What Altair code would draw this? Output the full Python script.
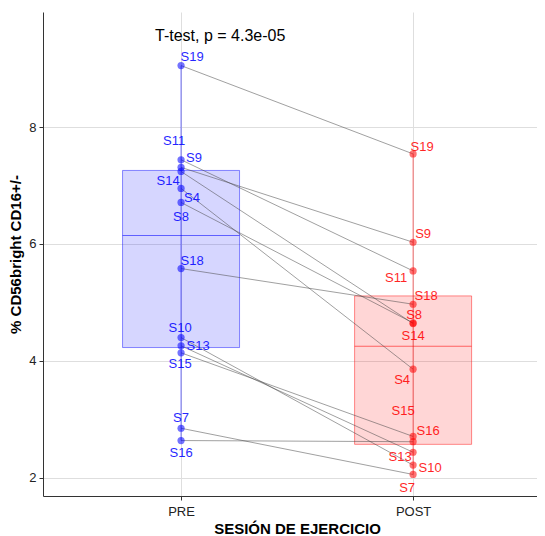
import altair as alt
import pandas as pd

subjects = ["S4", "S7", "S8", "S9", "S10", "S11", "S13", "S14", "S15", "S16", "S18", "S19"]
pre_values = [6.95, 2.85, 6.71, 7.31, 4.40, 7.44, 4.26, 7.24, 4.14, 2.64, 5.58, 9.05]
post_values = [3.86, 2.06, 4.65, 6.03, 2.22, 5.54, 2.44, 4.64, 2.71, 2.62, 4.97, 7.54]
groups = ["PRE", "POST"]
group_pos = [1, 2]
y_ticks = [2, 4, 6, 8]
stat_label = "T-test, p = 4.3e-05"

rows = []
for s, a, b in zip(subjects, pre_values, post_values):
    rows.append({"subject": s, "grp": groups[0], "xnum": group_pos[0], "value": a})
    rows.append({"subject": s, "grp": groups[1], "xnum": group_pos[1], "value": b})
df = pd.DataFrame(rows)

# label nudges (pixels) mimicking repelled labels
pre_nudge = {"S19": (11, -9), "S11": (-7, -19), "S9": (13, -9), "S14": (-13, 10),
             "S4": (11, 10), "S8": (0, 15), "S18": (11, -8), "S10": (-1, -10),
             "S13": (17, 0), "S15": (-1, 11), "S7": (0, -10), "S16": (0, 12)}
post_nudge = {"S19": (9, -7), "S9": (10, -8), "S11": (-17, 7), "S18": (13, -8),
              "S8": (1, -8), "S14": (0, 12), "S4": (-11, 11), "S15": (-10, -25),
              "S16": (15, -11), "S13": (-13, 5), "S10": (17, 3), "S7": (-6, 14)}

xscale = alt.Scale(domain=[0.405, 2.534], nice=False, zero=False, padding=0)
yscale = alt.Scale(domain=[1.692, 9.966], nice=False, zero=False, padding=0)
cscale = alt.Scale(domain=groups, range=["#0000FF", "#FF0000"])

base = alt.Chart(df)
X = alt.X("xnum:Q", scale=xscale,
          axis=alt.Axis(values=group_pos, labelExpr="datum.value == 1 ? 'PRE' : 'POST'",
                        title="SESIÓN DE EJERCICIO", grid=True, titleX=254))
Y = alt.Y("value:Q", scale=yscale,
          axis=alt.Axis(values=y_ticks, format="d", title="% CD56bright CD16+/-", grid=True))

agg = base.transform_aggregate(
    q1="q1(value)", q3="q3(value)", med="median(value)", lo="min(value)", hi="max(value)",
    groupby=["grp", "xnum"])

whisk = agg.mark_rule(strokeWidth=1, opacity=0.55).encode(
    x=X, y=alt.Y("lo:Q", scale=yscale), y2="hi:Q",
    color=alt.Color("grp:N", scale=cscale, legend=None))

box = agg.mark_bar(size=117, fillOpacity=0.16, strokeOpacity=0.45, strokeWidth=1).encode(
    x=X, y=alt.Y("q1:Q", scale=yscale), y2="q3:Q",
    fill=alt.Fill("grp:N", scale=cscale, legend=None),
    stroke=alt.Stroke("grp:N", scale=cscale, legend=None))

med = agg.mark_tick(orient="horizontal", size=117, thickness=1, opacity=0.55).encode(
    x=X, y=alt.Y("med:Q", scale=yscale),
    color=alt.Color("grp:N", scale=cscale, legend=None))

lines = base.mark_line(color="#444444", strokeWidth=0.6, opacity=0.85).encode(
    x=X, y=Y, detail="subject:N")

pts = base.mark_circle(size=52, opacity=0.55).encode(
    x=X, y=Y, color=alt.Color("grp:N", scale=cscale, legend=None))

label_layers = []
for grp, nudge in (("PRE", pre_nudge), ("POST", post_nudge)):
    for s, (dx, dy) in nudge.items():
        label_layers.append(
            base.transform_filter(f"datum.subject == '{s}' && datum.grp == '{grp}'")
            .mark_text(dx=dx, dy=dy, fontSize=13, font="Liberation Sans", opacity=0.85)
            .encode(x=X, y=Y, text="subject:N",
                    color=alt.Color("grp:N", scale=cscale, legend=None)))

stat = alt.Chart(pd.DataFrame({"t": [stat_label]})).mark_text(
    align="left", baseline="middle", fontSize=16, font="Liberation Sans", color="black"
).encode(x=alt.value(112), y=alt.value(24), text="t:N")

chart = alt.layer(box, whisk, med, lines, pts, *label_layers, stat).properties(
    width=494, height=484,
    autosize=alt.AutoSizeParams(type="none"),
    padding={"left": 35, "top": 4, "right": 0, "bottom": 40},
).configure_view(stroke=None).configure_axis(
    domainColor="#333333", tickColor="#333333", tickSize=4,
    labelColor="#222222", labelFont="Liberation Sans", labelFontSize=13,
    titleFont="Liberation Sans", titleFontSize=15, titleFontWeight="bold", titleColor="black",
    gridColor="#DEDEDE", gridWidth=1,
).configure_axisY(titlePadding=5, labelPadding=3).configure_axisX(labelPadding=5, titlePadding=3)

chart.save("out.html", embed_options={"renderer": "svg", "actions": False})
